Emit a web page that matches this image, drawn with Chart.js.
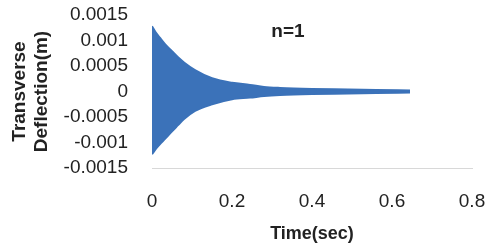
<!DOCTYPE html>
<html><head><meta charset="utf-8">
<script src="https://cdn.jsdelivr.net/npm/chart.js@4/dist/chart.umd.min.js"></script>
<style>html,body{margin:0;padding:0;background:#fff}#wrap{width:491px;height:247px}</style>
</head><body><div id="wrap"><canvas id="c"></canvas></div>
<script>
// Envelope of the dense damped oscillation
const times = [0, 0.01, 0.02, 0.0325, 0.05, 0.065, 0.08, 0.1075, 0.15, 0.2, 0.245, 0.28, 0.32, 0.4, 0.49, 0.56, 0.645];
const upper = [0.00128, 0.00115, 0.00105, 0.00093, 0.00079, 0.00067, 0.00057, 0.00042, 0.00026, 0.00017, 0.00013, 0.00009, 0.00007, 0.00005, 0.00004, 0.00003, 0.00002];
const lower = [-0.00123, -0.00112, -0.00103, -0.00093, -0.00078, -0.00066, -0.00054, -0.00038, -0.00025, -0.00015, -0.00012, -0.00009, -0.00007, -0.00005, -0.00004, -0.00003, -0.00002];
const xTicks = [0, 0.2, 0.4, 0.6, 0.8];
const xTickLabels = ['0', '0.2', '0.4', '0.6', '0.8'];
const yTicks = [0.0015, 0.001, 0.0005, 0, -0.0005, -0.001, -0.0015];
const yTickLabels = ['0.0015', '0.001', '0.0005', '0', '-0.0005', '-0.001', '-0.0015'];
const chartLabel = 'n=1';
const xTitle = 'Time(sec)';
const yTitle = ['Transverse', 'Deflection(m)'];

const blue = '#3b72b9';
const FONT = '"Liberation Sans", Arial, sans-serif';

const labelPlugin = {
  id: 'nlabel',
  afterDatasetsDraw(chart) {
    const ctx = chart.ctx;
    const xs = chart.scales.x, ys = chart.scales.y;
    ctx.save();
    ctx.font = 'bold 19px ' + FONT;
    ctx.fillStyle = '#222';
    ctx.textAlign = 'center';
    ctx.textBaseline = 'middle';
    ctx.fillText(chartLabel, xs.getPixelForValue(0.34), ys.getPixelForValue(0.00117));
    ctx.restore();
  }
};

new Chart(document.getElementById('c'), {
  type: 'line',
  data: {
    datasets: [
      { data: times.map((t, i) => ({x: t, y: upper[i]})), fill: '+1', backgroundColor: blue, borderColor: blue, borderWidth: 2, pointRadius: 0, cubicInterpolationMode: 'monotone' },
      { data: times.map((t, i) => ({x: t, y: lower[i]})), fill: false, backgroundColor: blue, borderColor: blue, borderWidth: 2, pointRadius: 0, cubicInterpolationMode: 'monotone' }
    ]
  },
  options: {
    responsive: true, maintainAspectRatio: false, animation: false,
    layout: { padding: { top: 15, right: 19, left: 8, bottom: 0 } },
    plugins: { legend: { display: false }, tooltip: { enabled: false } },
    scales: {
      x: {
        type: 'linear', min: 0, max: 0.8,
        afterBuildTicks(s) { s.ticks = xTicks.map(v => ({value: v})); },
        afterFit(s) { s.height = 79; s.paddingLeft = 0; s.paddingRight = 0; },
        grid: { display: false },
        border: { display: true, color: '#d8d8d8', width: 1 },
        ticks: { padding: 14, autoSkip: false, color: '#222', font: { family: FONT, size: 19 }, maxRotation: 0,
          callback: (v) => { const i = xTicks.indexOf(v); return i >= 0 ? xTickLabels[i] : ''; } },
        title: { display: true, text: xTitle, color: '#222', font: { family: FONT, size: 18, weight: 'bold' }, padding: { top: 4, bottom: 2 } }
      },
      y: {
        type: 'linear', min: -0.0015, max: 0.0015,
        afterBuildTicks(s) { s.ticks = yTicks.map(v => ({value: v})); },
        afterFit(s) { s.width = 144; s.paddingTop = 0; s.paddingBottom = 0; },
        grid: { display: false },
        border: { display: false },
        ticks: { padding: 16, autoSkip: false, color: '#222', font: { family: FONT, size: 19 },
          callback: (v) => { const i = yTicks.indexOf(v); return i >= 0 ? yTickLabels[i] : ''; } },
        title: { display: true, text: yTitle, color: '#222', font: { family: FONT, size: 19, weight: 'bold', lineHeight: 1.2 }, padding: { top: 0, bottom: 0 } }
      }
    }
  },
  plugins: [labelPlugin]
});
</script></body></html>
